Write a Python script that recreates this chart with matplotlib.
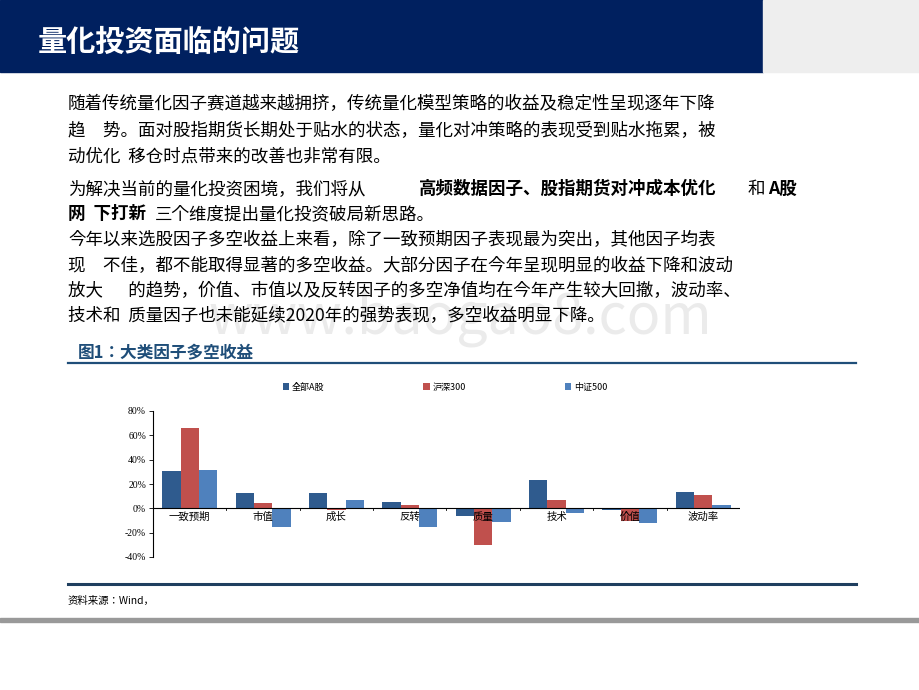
import matplotlib
matplotlib.use("Agg")
import matplotlib.pyplot as plt
from matplotlib.patches import Rectangle
from matplotlib import font_manager as fm
import numpy as np

categories = ["一致预期", "市值", "成长", "反转", "质量", "技术", "价值", "波动率"]
series_names = ["全部A股", "沪深300", "中证500"]
all_a = [30.5, 12.5, 12.5, 5.5, -6, 23, -1.5, 13.5]
hs300 = [66, 4, -1.5, 2.5, -30.5, 7, -10, 11]
zz500 = [31.5, -15.5, 6.5, -15.5, -11.5, -4, -12, 2.5]
yticks = [-40, -20, 0, 20, 40, 60, 80]
colors = ["#2F5B8E", "#C0504D", "#4F81BD"]

cjk_names = sorted({f.name for f in fm.fontManager.ttflist if "CJK" in f.name})
pref = [n for n in cjk_names if "SC" in n] or cjk_names or ["DejaVu Sans"]
CJK = pref[0]
plt.rcParams["font.family"] = [CJK, "DejaVu Sans"]

W, H = 920, 690
fig = plt.figure(figsize=(9.2, 6.9), dpi=100)

def fx(x): return x / W
def fy(y): return 1 - y / H

fig.patches.append(Rectangle((0, fy(72)), fx(763), 72 / H, transform=fig.transFigure, color="#00205F"))
fig.patches.append(Rectangle((fx(763), fy(72)), 1 - fx(763), 72 / H, transform=fig.transFigure, color="#EEEEEE"))
fig.text(fx(38), fy(42), "量化投资面临的问题", color="white", fontsize=21, fontweight="bold",
         family=CJK, va="center")

FS = 12.6
body = [
    (104, "随着传统量化因子赛道越来越拥挤，传统量化模型策略的收益及稳定性呈现逐年下降"),
    (131, "趋　势。面对股指期货长期处于贴水的状态，量化对冲策略的表现受到贴水拖累，被"),
    (157, "动优化  移仓时点带来的改善也非常有限。"),
    (240, "今年以来选股因子多空收益上来看，除了一致预期因子表现最为突出，其他因子均表"),
    (266, "现　不佳，都不能取得显著的多空收益。大部分因子在今年呈现明显的收益下降和波动"),
    (291, "放大　  的趋势，价值、市值以及反转因子的多空净值均在今年产生较大回撤，波动率、"),
    (316, "技术和  质量因子也未能延续2020年的强势表现，多空收益明显下降。"),
]
for y, t in body:
    fig.text(fx(68), fy(y), t, fontsize=FS, family=CJK, va="center")
fig.text(fx(68), fy(189), "为解决当前的量化投资困境，我们将从", fontsize=FS, family=CJK, va="center")
fig.text(fx(419), fy(189), "高频数据因子、股指期货对冲成本优化", fontsize=FS, family=CJK,
         va="center", fontweight="bold")
fig.text(fx(748), fy(189), "和", fontsize=FS, family=CJK, va="center")
fig.text(fx(768), fy(189), "A股", fontsize=FS, family=CJK, va="center", fontweight="bold")
fig.text(fx(68), fy(214), "网  下打新", fontsize=FS, family=CJK, va="center", fontweight="bold")
fig.text(fx(155), fy(214), "三个维度提出量化投资破局新思路。", fontsize=FS, family=CJK, va="center")

fig.text(0.5, fy(318), "www.baogao8.com", fontsize=40, color="#EBEBEB", ha="center", va="center", zorder=0)

fig.text(fx(78), fy(352), "图1：大类因子多空收益", fontsize=12, family=CJK, color="#1F4E79",
         fontweight="bold", va="center")
fig.lines.append(plt.Line2D([fx(68), fx(856)], [fy(363), fy(363)], transform=fig.transFigure,
                            color="#1F4E79", lw=1.6))
fig.lines.append(plt.Line2D([fx(68), fx(856)], [fy(584), fy(584)], transform=fig.transFigure,
                            color="#1F3F5F", lw=2.2))
fig.text(fx(68), fy(601), "资料来源：Wind，", fontsize=7.5, family=CJK, va="center")
fig.patches.append(Rectangle((0, fy(622)), 1, 4 / H, transform=fig.transFigure, color="#999999"))

ax = fig.add_axes([fx(153), fy(557), fx(740) - fx(153), (557 - 411) / H])
x = np.arange(len(categories))
w = 0.25
for i, (name, vals) in enumerate(zip(series_names, [all_a, hs300, zz500])):
    ax.bar(x + (i - 1) * w, vals, w, color=colors[i], label=name)
ax.set_xlim(-0.5, len(categories) - 0.5)
ax.set_ylim(-40, 80)
ax.set_yticks(yticks)
ax.set_yticklabels([f"{v}%" for v in yticks], family="Liberation Serif", fontsize=7)
ax.set_xticks([])
for s in ["top", "right", "bottom"]:
    ax.spines[s].set_visible(False)
ax.spines["left"].set_linewidth(0.8)
ax.axhline(0, color="black", lw=0.8)
for xi in np.arange(0.5, len(categories) - 0.5, 1):
    ax.plot([xi, xi], [0, -1.5], color="black", lw=0.6)
ax.tick_params(axis="y", length=3, width=0.6, pad=2)
for i, c in enumerate(categories):
    ax.text(i, -3, c, ha="center", va="top", family=CJK, fontsize=7.5)
fig.legend(loc="center", bbox_to_anchor=(fx(445), fy(387)), ncol=3, frameon=False,
           prop={"family": CJK, "size": 6.5}, handlelength=0.7, handleheight=0.7,
           columnspacing=11, handletextpad=0.3)
fig.savefig("out.png", dpi=100)
